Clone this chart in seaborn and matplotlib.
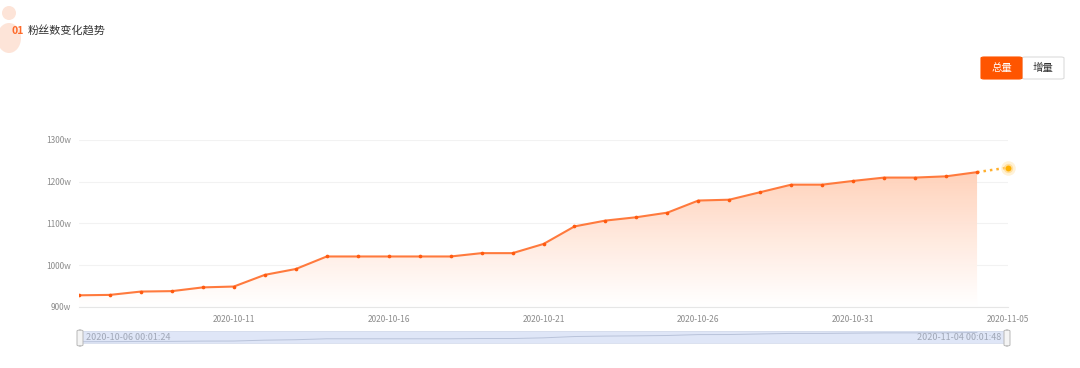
import numpy as np
import pandas as pd
import matplotlib.pyplot as plt
import matplotlib.dates as mdates
from matplotlib.colors import LinearSegmentedColormap
from matplotlib.patches import FancyBboxPatch, Ellipse
import seaborn as sns

# data (fans, unit: 万 = "w")
dates = pd.date_range("2020-10-06 00:01", periods=30, freq="D")
fans = [928, 929, 937, 938, 947, 949, 977, 991, 1021, 1021,
        1021, 1021, 1021, 1029, 1029, 1051, 1093, 1107, 1115, 1126,
        1155, 1157, 1175, 1193, 1193, 1202, 1210, 1210, 1213, 1223]
forecast_date = pd.Timestamp("2020-11-05 00:01")
forecast_val = 1234
yticks = [900, 1000, 1100, 1200, 1300]
xtick_labels = ["2020-10-11", "2020-10-16", "2020-10-21", "2020-10-26", "2020-10-31", "2020-11-05"]
range_start = "2020-10-06 00:01:24"
range_end = "2020-11-04 00:01:48"

df = pd.DataFrame({"date": dates, "fans": fans})

sns.set_style("white")
plt.rcParams["font.family"] = ["Noto Sans CJK SC", "DejaVu Sans"]

W, H = 1080, 368
fig = plt.figure(figsize=(W / 100, H / 100), dpi=100)
ax = fig.add_axes([79 / W, 1 - 307 / H, 929 / W, 167 / H])

x0 = pd.Timestamp("2020-10-06")
x1 = pd.Timestamp("2020-11-05")
ax.set_xlim(x0, x1)
ax.set_ylim(900, 1300)

# gradient fill under the line
poly = ax.fill_between(df["date"], df["fans"], 900, color="none", lw=0)
cmap = LinearSegmentedColormap.from_list("g", ["#ffffff", "#ffcdb3"])
grad = np.linspace(0, 1, 256).reshape(-1, 1) ** 1.1
img = ax.imshow(grad, cmap=cmap, aspect="auto", origin="lower",
                extent=[mdates.date2num(x0), mdates.date2num(x1), 900, 1240],
                zorder=1, alpha=0.95)
img.set_clip_path(poly.get_paths()[0], transform=ax.transData)
ax.set_ylim(900, 1300)

sns.lineplot(data=df, x="date", y="fans", ax=ax, color="#ff7a3d", lw=1.5, zorder=3)
ax.scatter(df["date"], df["fans"], s=7, color="#ff5a0f", zorder=4, lw=0)

# forecast segment
ax.plot([df["date"].iloc[-1], forecast_date], [fans[-1], forecast_val],
        ls=(0, (1.0, 1.6)), color="#ffb02e", lw=1.8, zorder=3, clip_on=False)
ax.scatter([forecast_date], [forecast_val], s=110, color="#ffe3a8", alpha=0.45, lw=0,
           zorder=4, clip_on=False)
ax.scatter([forecast_date], [forecast_val], s=45, color="#ffd27a", alpha=0.6, lw=0,
           zorder=4, clip_on=False)
ax.scatter([forecast_date], [forecast_val], s=18, color="#ffb000", lw=0, zorder=5, clip_on=False)

ax.set_yticks(yticks)
ax.set_yticklabels([f"{v}w" for v in yticks])
ax.set_xticks(pd.to_datetime(xtick_labels))
ax.set_xticklabels(xtick_labels)
ax.grid(axis="y", color="#f2f2f2", lw=0.8)
ax.set_axisbelow(True)
for s in ["top", "right", "left"]:
    ax.spines[s].set_visible(False)
ax.spines["bottom"].set_color("#e6e6e6")
ax.tick_params(axis="x", length=4, color="#e6e6e6", labelsize=6, labelcolor="#8c8c8c", pad=2)
ax.tick_params(axis="y", length=0, labelsize=6, labelcolor="#8c8c8c", pad=6)
ax.set_xlabel("")
ax.set_ylabel("")

# slider (datazoom)
ax2 = fig.add_axes([79 / W, 1 - 343 / H, 929 / W, 12 / H])
ax2.set_facecolor("#dfe6f7")
ax2.set_xlim(x0, x1)
ax2.set_ylim(886, 1270)
ax2.plot(df["date"], df["fans"], color="#b9c3da", lw=0.7)
ax2.set_xticks([])
ax2.set_yticks([])
for s in ax2.spines.values():
    s.set_color("#d5dcec")
    s.set_linewidth(0.6)
ax2.text(0.007, 0.45, range_start, transform=ax2.transAxes, fontsize=6.5,
         color="#a0a7b6", va="center", ha="left")
ax2.text(0.993, 0.45, range_end, transform=ax2.transAxes, fontsize=6.5,
         color="#a0a7b6", va="center", ha="right")
for hx in [77, 1004]:
    fig.patches.append(FancyBboxPatch((hx / W, 1 - 346 / H), 6 / W, 16 / H,
                                      boxstyle="round,pad=0,rounding_size=0.003",
                                      transform=fig.transFigure, fc="#f4f4f4",
                                      ec="#b8b8b8", lw=0.7))

# header icon + title
fig.patches.append(Ellipse((9 / W, 1 - 13 / H), 14 / W, 14 / H, transform=fig.transFigure,
                           fc="#fde4d8", ec="none"))
fig.patches.append(Ellipse((9 / W, 1 - 38 / H), 24 / W, 30 / H, transform=fig.transFigure,
                           fc="#fde4d8", ec="none"))
fig.text(12 / W, 1 - 31 / H, "01", fontsize=7.5, color="#ff6a2a", va="center",
         fontweight="bold")
fig.text(28 / W, 1 - 31 / H, "粉丝数变化趋势", fontsize=8, color="#333333", va="center")

# buttons
fig.patches.append(FancyBboxPatch((1022 / W, 1 - 79 / H), 42 / W, 22 / H,
                                  boxstyle="round,pad=0,rounding_size=0.003",
                                  transform=fig.transFigure, fc="white", ec="#dcdcdc", lw=0.8))
fig.patches.append(FancyBboxPatch((981 / W, 1 - 79 / H), 41 / W, 22 / H,
                                  boxstyle="round,pad=0,rounding_size=0.003",
                                  transform=fig.transFigure, fc="#ff5500", ec="#ff5500", lw=0.8))
fig.text(1001.5 / W, 1 - 68 / H, "总量", fontsize=7.5, color="white", ha="center", va="center")
fig.text(1043 / W, 1 - 68 / H, "增量", fontsize=7.5, color="#333333", ha="center", va="center")

fig.savefig("out.png", dpi=100)
